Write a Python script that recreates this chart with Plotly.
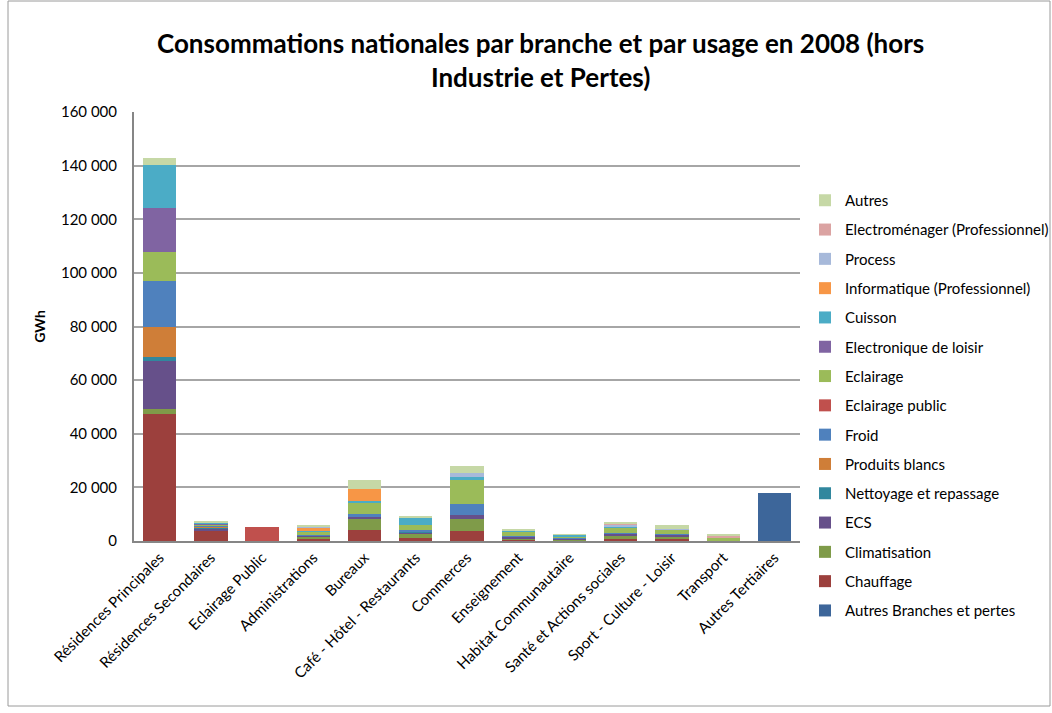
import plotly.graph_objects as go

# Branches (x categories)
categories = [
    "Résidences Principales", "Résidences Secondaires", "Eclairage Public",
    "Administrations", "Bureaux", "Café - Hôtel - Restaurants", "Commerces",
    "Enseignement", "Habitat Communautaire", "Santé et Actions sociales",
    "Sport - Culture - Loisir", "Transport", "Autres Tertiaires",
]

# Consumption by usage (GWh), one value per branch
autres_branches = [0, 0, 0, 0, 0, 0, 0, 0, 0, 0, 0, 0, 18000]
chauffage = [47500, 3800, 0, 700, 4100, 1300, 3700, 700, 300, 800, 700, 0, 0]
climatisation = [1700, 300, 0, 800, 4400, 1200, 4500, 400, 100, 1200, 900, 100, 0]
ecs = [18100, 700, 0, 400, 500, 800, 1500, 700, 700, 700, 700, 0, 0]
nettoyage = [1200, 100, 0, 0, 0, 200, 0, 0, 0, 0, 0, 0, 0]
produits_blancs = [11500, 400, 0, 0, 0, 0, 0, 0, 0, 0, 0, 0, 0]
froid = [17100, 500, 0, 400, 900, 700, 4100, 200, 300, 100, 200, 0, 0]
eclairage_public = [0, 0, 5300, 0, 0, 0, 0, 0, 0, 0, 0, 0, 0]
eclairage = [10600, 300, 0, 1300, 4600, 1900, 9000, 1700, 400, 2200, 1900, 1300, 0]
electronique = [16600, 400, 0, 0, 0, 0, 0, 0, 0, 0, 0, 0, 0]
cuisson = [15900, 400, 0, 200, 400, 2600, 1000, 200, 500, 300, 0, 0, 0]
informatique = [0, 0, 0, 1300, 4600, 0, 0, 100, 0, 200, 0, 0, 0]
process = [0, 0, 0, 200, 0, 200, 1500, 0, 0, 500, 200, 0, 0]
electromenager = [0, 0, 0, 0, 0, 0, 0, 0, 0, 600, 0, 500, 0]
autres = [2700, 200, 0, 500, 3100, 300, 2700, 300, 200, 200, 1200, 400, 0]

y_ticks = [0, 20000, 40000, 60000, 80000, 100000, 120000, 140000, 160000]
y_tick_labels = ["0", "20 000", "40 000", "60 000", "80 000", "100 000",
                 "120 000", "140 000", "160 000"]

# Stack order, bottom to top
series = [
    ("Autres Branches et pertes", autres_branches, "#3D669A"),
    ("Chauffage", chauffage, "#9C403D"),
    ("Climatisation", climatisation, "#7F9B49"),
    ("ECS", ecs, "#66508A"),
    ("Nettoyage et repassage", nettoyage, "#31879E"),
    ("Produits blancs", produits_blancs, "#CF7E38"),
    ("Froid", froid, "#4F81BD"),
    ("Eclairage public", eclairage_public, "#C0504D"),
    ("Eclairage", eclairage, "#9BBB59"),
    ("Electronique de loisir", electronique, "#8064A2"),
    ("Cuisson", cuisson, "#4BACC6"),
    ("Informatique (Professionnel)", informatique, "#F79646"),
    ("Process", process, "#A7B9DA"),
    ("Electroménager (Professionnel)", electromenager, "#DBA3A2"),
    ("Autres", autres, "#C6D8A6"),
]

FONT = "Lato, 'Liberation Sans', sans-serif"

fig = go.Figure()
n = len(series)
for i, (name, vals, color) in enumerate(series):
    fig.add_trace(go.Bar(
        x=categories, y=vals, name=name, legendgroup=f"g{i}",
        legendrank=n - i,  # top of the stack listed first
        marker=dict(color=color, line=dict(width=0)),
    ))

L, R, T, B = 134, 252, 112, 172
W, H = 1052, 713
pw, ph = W - L - R, H - T - B

fig.update_layout(
    width=W, height=H,
    barmode="stack", bargap=0.35,
    paper_bgcolor="white", plot_bgcolor="white",
    margin=dict(l=L, r=R, t=T, b=B, autoexpand=False),
    font=dict(family=FONT, size=14, color="#000000"),
    legend=dict(
        x=(805 - L) / pw, xanchor="left",
        y=(H - B - 184) / ph, yanchor="top",
        traceorder="grouped", tracegroupgap=6.8,
        font=dict(family=FONT, size=15),
        itemwidth=30, bgcolor="rgba(0,0,0,0)", maxheight=690,
    ),
    xaxis=dict(
        tickangle=-45, showline=True, linecolor="#868686", linewidth=2,
        ticks="", showgrid=False,
        tickfont=dict(family=FONT, size=15),
    ),
    yaxis=dict(
        range=[0, 160000], tickvals=y_ticks, ticktext=y_tick_labels,
        showgrid=True, gridcolor="#A6A6A6", gridwidth=2,
        showline=True, linecolor="#868686", linewidth=2,
        ticks="", ticklen=0, zeroline=False, ticklabelstandoff=12,
        tickfont=dict(family=FONT, size=15),
        title=dict(text="<b>GWh</b>", standoff=12,
                   font=dict(family=FONT, size=14)),
    ),
    annotations=[dict(
        text="<b>Consommations nationales par branche et par usage en 2008 (hors<br>Industrie et Pertes)</b>",
        xref="paper", yref="paper",
        x=(540 - L) / pw, xanchor="center",
        y=(H - B - 60) / ph, yanchor="middle",
        showarrow=False, align="center",
        font=dict(family=FONT, size=26, color="#000000"),
    )],
    shapes=[dict(
        type="rect", xref="paper", yref="paper",
        x0=(8 - L) / pw, x1=(W - 2 - L) / pw,
        y0=-(706 - (H - B)) / ph, y1=(H - B - 1) / ph,
        line=dict(color="#9A9A9A", width=1), layer="below",
    )],
)

fig.write_html("out.html")
